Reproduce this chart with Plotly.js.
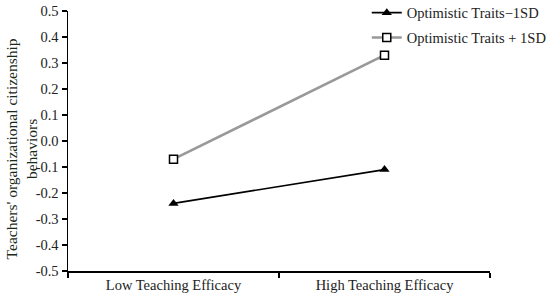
<!DOCTYPE html>
<html>
<head>
<meta charset="utf-8">
<script src="https://cdn.plot.ly/plotly-3.0.1.min.js"></script>
<style>html,body{margin:0;padding:0;background:#fff}#chart{width:550px;height:305px}</style>
</head>
<body>
<div id="chart"></div>
<script>
const categories = ["Low Teaching Efficacy", "High Teaching Efficacy"];
const seriesNames = ["Optimistic Traits\u22121SD", "Optimistic Traits + 1SD"];
const lowSD = [-0.24, -0.11];
const highSD = [-0.07, 0.33];
const yTickVals = [-0.5, -0.4, -0.3, -0.2, -0.1, 0.0, 0.1, 0.2, 0.3, 0.4, 0.5];
const yTickText = ["-0.5", "-0.4", "-0.3", "-0.2", "-0.1", "0.0", "0.1", "0.2", "0.3", "0.4", "0.5"];
const yTitle = "Teachers' organizational citizenship<br>behaviors";

const font = {family: "Liberation Serif, Times New Roman, serif", size: 14.5, color: "#222"};

const traces = [
  {
    x: categories, y: lowSD, name: seriesNames[0], type: "scatter", mode: "lines+markers",
    legendgroup: "a",
    line: {color: "#000", width: 1.6},
    marker: {symbol: "triangle-up", size: 9, color: "#000"}
  },
  {
    x: categories, y: highSD, name: seriesNames[1], type: "scatter", mode: "lines+markers",
    legendgroup: "b",
    line: {color: "#999", width: 2.6},
    marker: {symbol: "square", size: 8, color: "#fff", line: {color: "#000", width: 1.5}}
  }
];

const layout = {
  width: 550, height: 305,
  margin: {l: 68, r: 60, t: 11, b: 34, autoexpand: false},
  paper_bgcolor: "#fff", plot_bgcolor: "#fff",
  font: font,
  showlegend: true,
  legend: {x: 0.708, y: 1.055, xanchor: "left", yanchor: "top", bgcolor: "rgba(0,0,0,0)",
           font: {family: font.family, size: 14.5, color: "#222"}, tracegroupgap: 3, itemwidth: 30},
  xaxis: {
    type: "category", range: [-0.5, 1.5], tickson: "boundaries",
    showline: true, linecolor: "#000", linewidth: 1.5, mirror: false,
    ticks: "outside", ticklen: 5, tickcolor: "#000", tickwidth: 1.5,
    showgrid: false, zeroline: false, tickfont: font
  },
  yaxis: {
    range: [-0.5, 0.5], tickvals: yTickVals, ticktext: yTickText,
    showline: true, linecolor: "#000", linewidth: 1.5,
    ticks: "outside", ticklen: 5, tickcolor: "#000", tickwidth: 1.5,
    showgrid: false, zeroline: false, tickfont: font
  },
  annotations: [{
    text: yTitle, xref: "paper", yref: "paper", x: -0.11, y: 0.47,
    xanchor: "center", yanchor: "middle", textangle: -90, showarrow: false,
    font: {family: font.family, size: 15.5, color: "#1a2a1a"}
  }]
};

Plotly.newPlot("chart", traces, layout, {displayModeBar: false, staticPlot: true});
</script>
</body>
</html>
